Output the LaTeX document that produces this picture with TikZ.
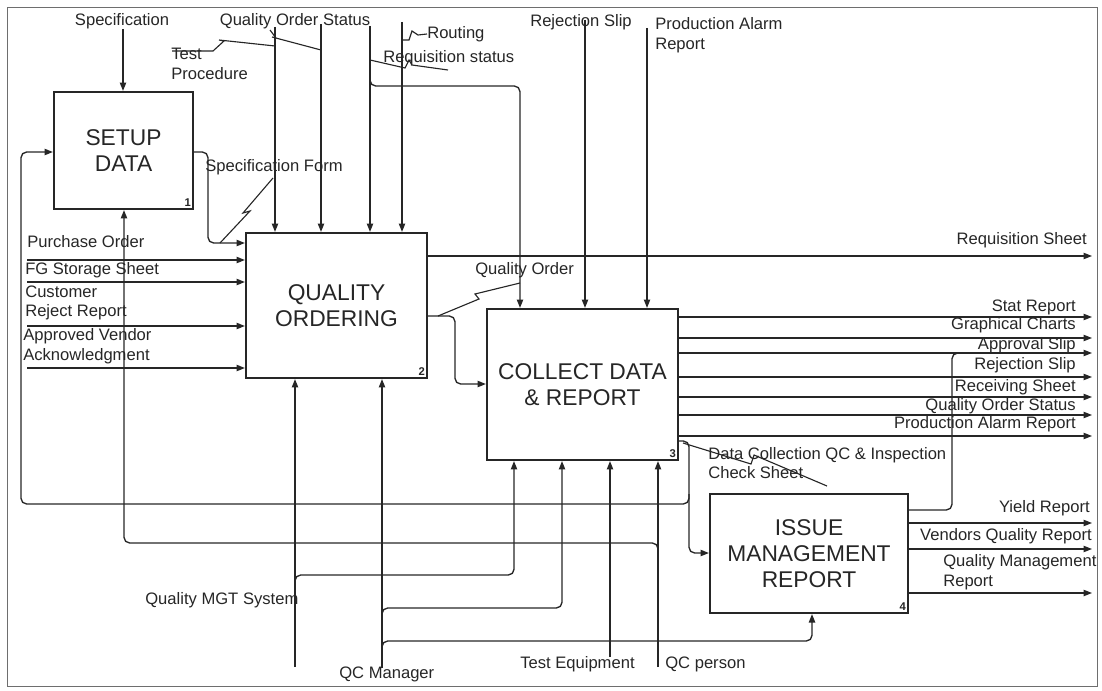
\documentclass[tikz,border=0pt]{standalone}
\usepackage{fontspec}
\setmainfont{Liberation Sans}
\usetikzlibrary{arrows.meta}
\definecolor{ink}{RGB}{38,38,38}
\definecolor{fgray}{RGB}{110,110,110}
\tikzset{
  act/.style ={rectangle, draw=ink, line width=1.5pt, fill=white, align=center,
               inner sep=0pt, text=ink, font=\fontsize{16.2}{18.5}\selectfont},
  num/.style ={anchor=south east, inner sep=2pt, text=ink,
               font=\fontsize{8}{9}\selectfont\bfseries},
  lbl/.style ={inner sep=0pt, align=left, text=ink, font=\fontsize{11.8}{14}\selectfont},
  ln/.style  ={draw=ink, line width=0.95pt, rounded corners=4pt},
  ar/.style  ={ln, -{Triangle[length=6pt,width=4.5pt]}},
  zz/.style  ={draw=ink, line width=0.8pt}
}

\begin{document}
\begin{tikzpicture}[x=0.025cm, y=-0.025cm]
\useasboundingbox (0,0) rectangle (1102,690);
\draw[fgray, line width=0.6pt] (7,7) rectangle (1097,686);

% activities
\node[act, minimum width=139*0.025cm, minimum height=117*0.025cm] (sd) at (123.5,150.5) {SETUP\\DATA};
\node[act, minimum width=181*0.025cm, minimum height=145*0.025cm] (qo) at (336.5,305.5) {QUALITY\\ORDERING};
\node[act, minimum width=191*0.025cm, minimum height=151*0.025cm] (cd) at (582.5,384.5) {COLLECT DATA\\\& REPORT};
\node[act, minimum width=198*0.025cm, minimum height=119*0.025cm] (im) at (809,553.5) {ISSUE\\MANAGEMENT\\REPORT};
\node[num] (n1) at (sd.south east) {1};
\node[num] (n2) at (qo.south east) {2};
\node[num] (n3) at (cd.south east) {3};
\node[num] (n4) at (im.south east) {4};

% controls
\draw[ar] (123,29) -- (123,29 |- sd.north);
\foreach \x/\y in {275/27, 321/24, 370/26, 402/22}
  \draw[ar] (\x,\y) -- (\x,\y |- qo.north);
\draw[ar] (370,78) |- (520,86) -- (520,86 |- cd.north);
\draw[ar] (585,20) -- (585,20 |- cd.north);
\draw[ar] (647,28) -- (647,28 |- cd.north);

% inputs and outputs
\draw[ar] (sd.east |- 0,152) -| (208,200) |- (qo.west |- 0,243);
\foreach \y in {260,282,326,368}
  \draw[ar] (27,\y) -- (qo.west |- 0,\y);
\draw[ar] (qo.east |- 0,256) -- (1092,256);
\draw[ar] (qo.east |- 0,316) -| (455,350) |- (cd.west |- 0,384);
\foreach \y in {317,338,353,377,397,415,436}
  \draw[ar] (cd.east |- 0,\y) -- (1092,\y);
\draw[ar] (cd.east |- 0,441) -| (689,500) |- (im.west |- 0,553);
\draw[ar] (689,494) |- (21,504) |- (sd.west |- 0,152);
\draw[ln] (im.east |- 0,510) -| (952,420) |- (962,353);
\foreach \y in {523,549,593}
  \draw[ar] (im.east |- 0,\y) -- (1092,\y);

% mechanisms
\draw[ar] (295,667) -- (295,667 |- qo.south);
\draw[ar] (295,588) |- (514,575) -- (514,575 |- cd.south);
\draw[ar] (382,668) -- (382,668 |- qo.south);
\draw[ar] (382,620) |- (562,608) -- (562,608 |- cd.south);
\draw[ar] (382,652) |- (812,641) -- (812,641 |- im.south);
\draw[ar] (610,657) -- (610,657 |- cd.south);
\draw[ar] (658,667) -- (658,667 |- cd.south);
\draw[ar] (658,556) |- (124,543) -- (124,543 |- sd.south);

% squiggles
\draw[zz] (172,51) -- (213,51) -- (224,41) -- (219,40) -- (275,46);
\draw[zz] (270,30) -- (276,38) -- (272,37) -- (321,50);
\draw[zz] (370,60) -- (405,68) -- (409,60) -- (412,65) -- (448,70);
\draw[zz] (402,40) -- (409,40) -- (412,31) -- (418,35) -- (427,34);
\draw[zz] (220,243) -- (250,211) -- (243,213) -- (273,178);
\draw[zz] (438,316) -- (479,299) -- (475,294) -- (520,283);
\draw[zz] (683,443) -- (751,464) -- (754,455) -- (827,486);

% labels
\node[lbl] (lspec) at (122,21) {Specification};
\node[lbl] (lqos) at (295,21) {Quality Order Status};
\node[lbl, anchor=west] (ltest) at (171,64) {Test\\Procedure};
\node[lbl, anchor=west] (lrout) at (427,34) {Routing};
\node[lbl, anchor=west] (lreqst) at (383,58) {Requisition status};
\node[lbl, anchor=east] (lrej) at (632,22) {Rejection Slip};
\node[lbl, anchor=west] (lpar) at (655,35) {Production Alarm\\Report};
\node[lbl, anchor=west] (lsform) at (205,167) {Specification Form};
\node[lbl, anchor=west] (lpo) at (27,242) {Purchase Order};
\node[lbl, anchor=west] (lfg) at (25,270) {FG Storage Sheet};
\node[lbl, anchor=west] (lcrr) at (25,303) {Customer\\Reject Report};
\node[lbl, anchor=west] (lava) at (23,346) {Approved Vendor\\Acknowledgment};
\node[lbl, anchor=east] (lreqsh) at (1087,240) {Requisition Sheet};
\node[lbl, anchor=west] (lqord) at (475,270) {Quality Order};
\foreach \t/\y [count=\i] in {Stat Report/307, Graphical Charts/325, Approval Slip/345,
    Rejection Slip/365, Receiving Sheet/387, Quality Order Status/406,
    Production Alarm Report/424}
  \node[lbl, anchor=east] (lout\i) at (1076,\y) {\t};
\node[lbl, anchor=west] (ldcs) at (708,463) {Data Collection QC \& Inspection\\Check Sheet};
\node[lbl, anchor=east] (lyield) at (1090,508) {Yield Report};
\node[lbl, anchor=east] (lvqr) at (1092,536) {Vendors Quality Report};
\node[lbl, anchor=west] (lqmr) at (943,572) {Quality Management\\Report};
\node[lbl, anchor=west] (lqms) at (145,600) {Quality MGT System};
\node[lbl, anchor=west] (lqcm) at (339,674) {QC Manager};
\node[lbl, anchor=west] (lteq) at (520,664) {Test Equipment};
\node[lbl, anchor=west] (lqcp) at (665,664) {QC person};
\end{tikzpicture}
\end{document}
